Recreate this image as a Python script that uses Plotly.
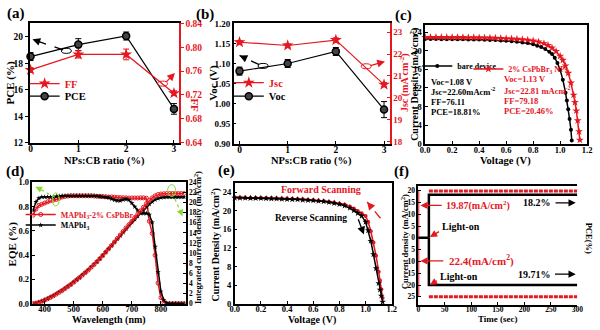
import plotly.graph_objects as go

FONT = "Liberation Serif"
RED = "#e5171f"
BLACK = "#000000"
GREEN = "#86d930"
W, H = 600, 330

# ---------------- data ----------------
# (a)/(b) device statistics vs NPs:CB ratio
ratio = [0, 1, 2, 3]
pce = [18.5, 19.4, 20.05, 14.55]
pce_err = [0.3, 0.45, 0.3, 0.4]
ff = [0.762, 0.788, 0.788, 0.723]
ff_err = [0.004, 0.006, 0.009, 0.004]
voc = [1.081, 1.100, 1.130, 0.985]
voc_err = [0.010, 0.010, 0.010, 0.020]
jsc = [22.54, 22.39, 22.64, 20.60]
jsc_err = [0.08, 0.08, 0.10, 0.10]

# (c) J-V curves
v_bare = [0.00, 0.04, 0.08, 0.12, 0.16, 0.20, 0.24, 0.28, 0.32, 0.36, 0.40, 0.44, 0.48, 0.52,
          0.56, 0.60, 0.64, 0.68, 0.72, 0.76, 0.80, 0.83, 0.86, 0.89, 0.92, 0.94, 0.96, 0.98,
          1.00, 1.02, 1.04, 1.05, 1.06, 1.07, 1.08, 1.086]
j_bare = [22.55, 22.55, 22.54, 22.53, 22.52, 22.51, 22.50, 22.49, 22.47, 22.45, 22.43, 22.40,
          22.36, 22.32, 22.26, 22.18, 22.08, 21.95, 21.82, 21.68, 21.45, 21.10, 20.85, 20.40,
          19.80, 19.30, 18.50, 17.40, 15.90, 13.80, 11.00, 9.30, 7.40, 5.30, 3.00, 0.70]
v_np = [0.00, 0.04, 0.08, 0.12, 0.16, 0.20, 0.24, 0.28, 0.32, 0.36, 0.40, 0.44, 0.48, 0.52,
        0.56, 0.60, 0.64, 0.68, 0.72, 0.76, 0.80, 0.84, 0.88, 0.91, 0.94, 0.97, 1.00, 1.02,
        1.04, 1.06, 1.08, 1.10, 1.11, 1.12, 1.13, 1.14, 1.146]
j_np = [22.95, 22.95, 22.94, 22.94, 22.93, 22.92, 22.91, 22.90, 22.89, 22.87, 22.85, 22.83,
        22.80, 22.77, 22.73, 22.68, 22.62, 22.54, 22.45, 22.33, 22.18, 21.95, 21.60, 21.20,
        20.65, 19.90, 18.90, 18.00, 16.80, 15.20, 13.10, 10.50, 8.90, 7.10, 5.00, 2.60, 0.80]

# (d) EQE and integrated current
wl = [360, 370, 380, 390, 400, 410, 420, 430, 440, 450, 460, 470, 480, 490, 500, 510, 520, 530,
      540, 550, 560, 570, 580, 590, 600, 610, 620, 630, 640, 650, 660, 670, 680, 690, 700, 710,
      720, 730, 740, 750, 760, 770, 780, 790, 800, 810, 820, 830, 840, 850, 860, 870, 880]
eqe_np = [0.73, 0.78, 0.81, 0.82, 0.83, 0.84, 0.85, 0.855, 0.86, 0.87, 0.88, 0.885, 0.888, 0.89,
          0.89, 0.89, 0.89, 0.89, 0.89, 0.89, 0.89, 0.888, 0.886, 0.885, 0.884, 0.882, 0.88,
          0.88, 0.878, 0.876, 0.875, 0.874, 0.873, 0.872, 0.872, 0.872, 0.872, 0.873, 0.873,
          0.87, 0.68, 0.58, 0.40, 0.17, 0.05, 0.01, 0.0, 0.0, 0.0, 0.0, 0.0, 0.0, 0.0]
eqe_ref = [0.77, 0.84, 0.87, 0.88, 0.88, 0.88, 0.88, 0.88, 0.885, 0.888, 0.89, 0.89, 0.89, 0.89,
           0.89, 0.89, 0.89, 0.89, 0.89, 0.89, 0.89, 0.89, 0.888, 0.885, 0.882, 0.878, 0.875,
           0.865, 0.855, 0.85, 0.85, 0.858, 0.862, 0.855, 0.83, 0.80, 0.77, 0.75, 0.745, 0.745,
           0.735, 0.67, 0.47, 0.26, 0.10, 0.03, 0.005, 0.0, 0.0, 0.0, 0.0, 0.0, 0.0]
int_np = [0.0, 0.1, 0.25, 0.45, 0.7, 0.95, 1.25, 1.55, 1.9, 2.25, 2.6, 3.0, 3.4, 3.8, 4.25, 4.7,
          5.15, 5.65, 6.15, 6.65, 7.2, 7.75, 8.3, 8.9, 9.55, 10.2, 10.85, 11.5, 12.2, 12.9, 13.6,
          14.3, 15.0, 15.65, 16.3, 17.0, 17.7, 18.4, 19.1, 19.8, 20.45, 20.95, 21.35, 21.6,
          21.72, 21.76, 21.8, 21.8, 21.8, 21.8, 21.8, 21.8, 21.8]
int_ref = [0.0, 0.12, 0.3, 0.5, 0.75, 1.0, 1.3, 1.6, 1.95, 2.3, 2.65, 3.05, 3.45, 3.85, 4.3,
           4.75, 5.2, 5.7, 6.2, 6.7, 7.25, 7.8, 8.35, 8.95, 9.55, 10.2, 10.85, 11.5, 12.15, 12.8,
           13.45, 14.1, 14.8, 15.45, 16.1, 16.7, 17.3, 17.9, 18.5, 19.1, 19.7, 20.2, 20.6, 20.85,
           21.0, 21.05, 21.1, 21.1, 21.1, 21.1, 21.1, 21.1, 21.1]

# (e) hysteresis
v_scan = [0.00, 0.04, 0.08, 0.12, 0.16, 0.20, 0.24, 0.28, 0.32, 0.36, 0.40, 0.44, 0.48, 0.52,
          0.56, 0.60, 0.64, 0.68, 0.72, 0.76, 0.80, 0.84, 0.88, 0.91, 0.94, 0.97, 1.00, 1.02,
          1.04, 1.06, 1.08, 1.10, 1.11, 1.12, 1.13]
j_rev = [22.80, 22.78, 22.76, 22.74, 22.72, 22.70, 22.67, 22.64, 22.61, 22.57, 22.53, 22.48,
         22.43, 22.37, 22.30, 22.22, 22.12, 22.00, 21.85, 21.66, 21.42, 21.10, 20.60, 20.10,
         19.50, 18.90, 17.60, 15.80, 13.50, 10.60, 7.60, 4.40, 3.00, 1.70, 0.40]
j_fwd = [22.90, 22.88, 22.86, 22.84, 22.82, 22.80, 22.77, 22.74, 22.71, 22.67, 22.63, 22.58,
         22.53, 22.47, 22.40, 22.32, 22.22, 22.10, 21.96, 21.80, 21.60, 21.35, 20.95, 20.50,
         19.95, 19.50, 18.90, 17.60, 15.60, 13.20, 10.30, 6.90, 5.00, 3.10, 1.20]

# (f) steady-state output
t_dark = [0, 20]
y_dark = [0, 0]
t_on = [20, 20, 300]
pce_top = [0, 18.2, 18.2]
pce_bot = [0, -20.0, -20.0]
t_red = [20, 300]
cur_top = [19.87, 19.87]
cur_bot = [-25.0, -25.0]
t_edge = [0, 0]
y_edge = [19.87, -25.0]
f_ticks = [-25, -20, -15, -10, -5, 0, 5, 10, 15, 20]
f_ticktext = ["25", "20", "15", "10", "5", "0", "5", "10", "15", "20"]


def px(x):
    return x / W


def py(y):
    return 1 - y / H


def tf(size=10, color=BLACK):
    return dict(family=FONT, size=size, color=color, weight="bold")


def axis(rng, anchor, domain=None, size=10, color=BLACK, ticks="inside", standoff=0, **kw):
    d = dict(range=rng, anchor=anchor, showline=True, linecolor=color, linewidth=1.5,
             ticks=ticks, ticklen=3, tickwidth=1, tickcolor=color, tickfont=tf(size, color),
             ticklabelstandoff=standoff,
             showgrid=False, zeroline=False, fixedrange=True)
    if domain is not None:
        d["domain"] = domain
    d.update(kw)
    return d


fig = go.Figure()

# ---- (a) ----
fig.add_trace(go.Scatter(x=ratio, y=ff, xaxis="x", yaxis="y2", name="FF", legend="legend",
                         mode="lines+markers", line=dict(color=RED, width=1.2),
                         marker=dict(symbol="star", size=9, color=RED),
                         error_y=dict(type="data", array=ff_err, color=RED, thickness=1, width=3),
                         cliponaxis=False))
fig.add_trace(go.Scatter(x=ratio, y=pce, xaxis="x", yaxis="y", name="PCE", legend="legend2",
                         mode="lines+markers", line=dict(color=BLACK, width=1.2),
                         marker=dict(symbol="circle", size=7, color="#444", line=dict(color=BLACK, width=1.5)),
                         error_y=dict(type="data", array=pce_err, color=BLACK, thickness=1, width=3),
                         cliponaxis=False))
# ---- (b) ----
fig.add_trace(go.Scatter(x=ratio, y=jsc, xaxis="x2", yaxis="y4", name="Jsc", legend="legend3",
                         mode="lines+markers", line=dict(color=RED, width=1.2),
                         marker=dict(symbol="star", size=9, color=RED),
                         error_y=dict(type="data", array=jsc_err, color=RED, thickness=1, width=3),
                         cliponaxis=False))
fig.add_trace(go.Scatter(x=ratio, y=voc, xaxis="x2", yaxis="y3", name="Voc", legend="legend4",
                         mode="lines+markers", line=dict(color=BLACK, width=1.2),
                         marker=dict(symbol="circle", size=7, color="#444", line=dict(color=BLACK, width=1.5)),
                         error_y=dict(type="data", array=voc_err, color=BLACK, thickness=1, width=3),
                         cliponaxis=False))
# ---- (c) ----
fig.add_trace(go.Scatter(x=v_bare, y=j_bare, xaxis="x3", yaxis="y5", name="bare device",
                         legend="legend5", mode="lines+markers", line=dict(color=BLACK, width=1.5),
                         marker=dict(symbol="circle", size=4, color=BLACK), cliponaxis=False))
fig.add_trace(go.Scatter(x=v_np, y=j_np, xaxis="x3", yaxis="y5", name="2% CsPbBr<sub>3</sub> NPs",
                         legend="legend6", mode="lines+markers", line=dict(color=RED, width=1.5),
                         marker=dict(symbol="star", size=6, color=RED), cliponaxis=False))
# ---- (d) ----
fig.add_trace(go.Scatter(x=wl, y=eqe_np, xaxis="x4", yaxis="y6",
                         name="MAPbI<sub>3</sub>-2% CsPbBr<sub>3</sub>", legend="legend7",
                         mode="lines+markers", line=dict(color=RED, width=1.5),
                         marker=dict(symbol="circle-open", size=4, color=RED, line=dict(width=1))))
fig.add_trace(go.Scatter(x=wl, y=eqe_ref, xaxis="x4", yaxis="y6", name="MAPbI<sub>3</sub>",
                         legend="legend8", mode="lines+markers", line=dict(color=BLACK, width=1.5),
                         marker=dict(symbol="star", size=4, color=BLACK)))
fig.add_trace(go.Scatter(x=wl, y=int_ref, xaxis="x4", yaxis="y7", showlegend=False,
                         mode="lines+markers", line=dict(color=BLACK, width=1.5),
                         marker=dict(symbol="star", size=4, color=BLACK)))
fig.add_trace(go.Scatter(x=wl, y=int_np, xaxis="x4", yaxis="y7", showlegend=False,
                         mode="lines+markers", line=dict(color=RED, width=1.5),
                         marker=dict(symbol="circle-open", size=4, color=RED, line=dict(width=1))))
# ---- (e) ----
fig.add_trace(go.Scatter(x=v_scan, y=j_fwd, xaxis="x5", yaxis="y8", showlegend=False,
                         mode="lines+markers", line=dict(color=RED, width=1.5),
                         marker=dict(symbol="circle", size=4, color=RED), cliponaxis=False))
fig.add_trace(go.Scatter(x=v_scan, y=j_rev, xaxis="x5", yaxis="y8", showlegend=False,
                         mode="lines+markers", line=dict(color=BLACK, width=1.5),
                         marker=dict(symbol="star", size=5, color=BLACK), cliponaxis=False))
# ---- (f) ----
for xs, ys, col in [(t_red, cur_top, RED), (t_red, cur_bot, RED)]:
    fig.add_trace(go.Scatter(x=xs, y=ys, xaxis="x6", yaxis="y9", showlegend=False, mode="lines",
                             line=dict(color=col, width=3, dash="4px,1px"), cliponaxis=False))
fig.add_trace(go.Scatter(x=t_edge, y=y_edge, xaxis="x6", yaxis="y9", showlegend=False, mode="lines",
                         line=dict(color=RED, width=2), cliponaxis=False))
fig.add_trace(go.Scatter(x=t_dark, y=y_dark, xaxis="x6", yaxis="y9", showlegend=False, mode="lines",
                         line=dict(color=BLACK, width=2.5), cliponaxis=False))
for ys in (pce_top, pce_bot):
    fig.add_trace(go.Scatter(x=t_on, y=ys, xaxis="x6", yaxis="y9", showlegend=False, mode="lines",
                             line=dict(color=BLACK, width=2.5), cliponaxis=False))

shapes = []
anns = []


def dashed_arrow(xr, yr, x0, y0, x1, y1, color, frac=0.3):
    shapes.append(dict(type="line", xref=xr, yref=yr, x0=x0, y0=y0, x1=x1, y1=y1,
                       line=dict(color=color, width=1.3, dash="dash")))
    anns.append(dict(xref=xr, yref=yr, axref=xr, ayref=yr, x=x1, y=y1,
                     ax=x1 - (x1 - x0) * frac, ay=y1 - (y1 - y0) * frac, text="",
                     showarrow=True, arrowhead=2, arrowsize=1.2, arrowwidth=1.3, arrowcolor=color))


def solid_arrow(xr, yr, x0, y0, x1, y1, color, width=1.2):
    anns.append(dict(xref=xr, yref=yr, axref=xr, ayref=yr, x=x1, y=y1, ax=x0, ay=y0, text="",
                     showarrow=True, arrowhead=2, arrowsize=1.2, arrowwidth=width, arrowcolor=color))


def ellipse(xr, yr, x, y, w, h, color, dash="solid"):
    shapes.append(dict(type="circle", xref=xr, yref=yr, xsizemode="pixel", ysizemode="pixel",
                       xanchor=x, yanchor=y, x0=-w / 2, x1=w / 2, y0=-h / 2, y1=h / 2,
                       line=dict(color=color, width=1, dash=dash)))


def text(x, y, s, size=10, color=BLACK, angle=0, xref="paper", yref="paper", xanchor="center"):
    anns.append(dict(x=x, y=y, xref=xref, yref=yref, text=s, showarrow=False, textangle=angle,
                     font=tf(size, color), xanchor=xanchor, yanchor="middle"))


# arrows & circles (a)
ellipse("x", "y", 0.75, 18.93, 10, 5, BLACK)
dashed_arrow("x", "y", 0.68, 19.0, 0.04, 19.8, BLACK)
ellipse("x", "y2", 2.76, 0.739, 10, 5, RED)
dashed_arrow("x", "y2", 2.84, 0.742, 3.02, 0.757, RED, frac=0.5)
# (b)
ellipse("x2", "y3", 0.49, 1.094, 10, 5, BLACK)
dashed_arrow("x2", "y3", 0.41, 1.097, 0.0, 1.12, BLACK)
ellipse("x2", "y4", 2.63, 21.44, 10, 5, RED)
dashed_arrow("x2", "y4", 2.72, 21.47, 3.02, 21.66, RED, frac=0.5)
# (d) green
ellipse("x4", "y6", 438, 0.86, 7, 13, GREEN)
shapes.append(dict(type="line", xref="x4", yref="y6", x0=434, y0=0.88, x1=372, y1=0.96,
                   line=dict(color=GREEN, width=1.2, dash="dot")))
anns.append(dict(xref="x4", yref="y6", axref="x4", ayref="y6", x=368, y=0.965, ax=385, ay=0.945,
                 text="", showarrow=True, arrowhead=2, arrowsize=1.1, arrowwidth=1.2, arrowcolor=GREEN))
ellipse("x4", "y7", 837, 22.4, 8, 12, GREEN)
shapes.append(dict(type="line", xref="x4", yref="y7", x0=840, y0=21.8, x1=872, y1=17.6,
                   line=dict(color=GREEN, width=1.2, dash="dot")))
anns.append(dict(xref="x4", yref="y7", axref="x4", ayref="y7", x=874, y=17.3, ax=864, ay=18.8,
                 text="", showarrow=True, arrowhead=2, arrowsize=1.1, arrowwidth=1.2, arrowcolor=GREEN))
# (e)
dashed_arrow("x5", "y8", 0.944, 18.2, 0.987, 14.9, BLACK, frac=0.4)
dashed_arrow("x5", "y8", 1.114, 18.4, 1.012, 21.9, RED, frac=0.35)
text(0.66, 24.6, "Forward Scanning", 10, RED, xref="x5", yref="y8")
text(0.58, 18.4, "Reverse Scanning", 9.5, BLACK, xref="x5", yref="y8")
# (f)
text(113, 13.7, "19.87(mA/cm<sup>2</sup>)", 10, RED, xref="x6", yref="y9")
solid_arrow("x6", "y9", 47, 13.7, 4, 13.7, RED)
text(224, 14.8, "18.2%", 10, BLACK, xref="x6", yref="y9")
solid_arrow("x6", "y9", 256, 14.8, 297, 14.8, BLACK)
text(80, 5.0, "Light-on", 10, BLACK, xref="x6", yref="y9")
solid_arrow("x6", "y9", 42, 3.0, 22, 0.3, RED)
text(120, -9.8, "22.4(mA/cm<sup>2</sup>)", 11, RED, xref="x6", yref="y9")
solid_arrow("x6", "y9", 50, -9.8, 4, -9.8, RED)
text(220, -15.4, "19.71%", 10, BLACK, xref="x6", yref="y9")
solid_arrow("x6", "y9", 255, -15.4, 297, -15.4, BLACK)
text(76, -16.4, "Light-on", 10, BLACK, xref="x6", yref="y9")
solid_arrow("x6", "y9", 38, -17.8, 22, -20, RED)
# (c) text blocks
for yv, s in [(13.4, "Voc=1.08 V"), (11.2, "Jsc=22.60mAcm<sup>-2</sup>"), (9.0, "FF=76.11"),
              (6.8, "PCE=18.81%")]:
    text(0.03, yv, s, 8.5, BLACK, xref="x3", yref="y5", xanchor="left")
for yv, s in [(13.9, "Voc=1.13 V"), (11.4, "Jsc=22.81 mAcm<sup>-2</sup>"), (9.2, "FF=79.18"),
              (7.1, "PCE=20.46%")]:
    text(0.57, yv, s, 8.5, RED, xref="x3", yref="y5", xanchor="left")

# panel labels
for (x, y, s) in [(11, 9, "(a)"), (204, 10, "(b)"), (406, 11, "(c)"), (10, 172, "(d)"),
                  (226, 171, "(e)"), (404, 172, "(f)")]:
    text(px(x), py(y), s, 15)
# axis titles
text(px(101), py(161), "NPs:CB ratio (%)", 10.5)
text(px(312), py(161), "NPs:CB ratio (%)", 10.5)
text(px(510), py(161), "Voltage (V)", 10.5)
text(px(106), py(325), "Wavelength (nm)", 10)
text(px(313), py(325), "Voltage (V)", 10)
text(px(502), py(324), "Time (sec)", 9)
text(px(6), py(80), "PCE (%)", 11, angle=-90)
text(px(194), py(104), "FF", 11, RED, angle=90)
text(px(212), py(80), "Voc (V)", 11, angle=-90)
text(px(407), py(80), "Jsc (mA cm<sup>-2</sup>)", 10, RED, angle=-90)
text(px(417), py(82), "Current Density (mA/cm<sup>2</sup>)", 10, angle=-90)
text(px(8), py(246), "EQE (%)", 11, angle=-90)
text(px(197), py(240), "Integrated current density (mA/cm<sup>2</sup>)", 8.5, angle=-90)
text(px(214), py(248), "Current Density (mA/cm<sup>2</sup>)", 10, angle=-90)
text(px(408), py(244), "Current density (mA/cm<sup>2</sup>)", 8.5, angle=-90)
text(px(595), py(240), "PCE(%)", 8.5, angle=90)


def leg(x, y, color, size=10):
    return dict(x=px(x), y=py(y), xanchor="left", yanchor="middle", bgcolor="rgba(0,0,0,0)",
                borderwidth=0, font=tf(size, color), itemwidth=30, tracegroupgap=0)


fig.update_layout(
    width=W, height=H, margin=dict(l=0, r=0, t=0, b=0),
    paper_bgcolor="white", plot_bgcolor="white",
    font=dict(family=FONT, color=BLACK),
    showlegend=True,
    legend=leg(20, 81, RED, 10.5), legend2=leg(20, 94, BLACK, 10.5),
    legend3=leg(228, 80, RED, 10.5), legend4=leg(228, 94, BLACK, 10.5),
    legend5=leg(420, 63, BLACK, 8), legend6=leg(472, 66, RED, 8),
    legend7=leg(16, 216, RED, 8), legend8=leg(16, 227, BLACK, 8),
    xaxis=axis([-0.02, 3.1], "y", [px(25), px(177)], size=9.5, dtick=1, mirror=True, standoff=-4),
    yaxis=axis([12, 21], "x", [py(142), py(19)], size=9.5, dtick=2, ticks="outside"),
    yaxis2=axis([0.64, 0.84], "x", None, size=9.5, color=RED, overlaying="y", side="right",
                dtick=0.04, tickformat=".2f", ticks="outside"),
    xaxis2=axis([-0.12, 3.12], "y3", [px(233), px(392)], size=9.5, dtick=1, mirror=True,
                standoff=-4),
    yaxis3=axis([0.9, 1.2], "x2", [py(143), py(19)], size=9, dtick=0.05, tickformat=".2f"),
    yaxis4=axis([17.9, 23.4], "x2", None, size=9, color=RED, overlaying="y3", side="right",
                dtick=1),
    xaxis3=axis([0, 1.2], "y5", [px(428), px(593)], size=8.5, dtick=0.2, tickformat=".1f",
                mirror=True, standoff=-3),
    yaxis5=axis([0, 25.5], "x3", [py(143), py(21)], size=8.5, dtick=4, mirror=True),
    xaxis4=axis([358, 885], "y6", [px(28), px(184)], size=8.5, tickvals=[400, 500, 600, 700, 800],
                mirror=True, standoff=-4),
    yaxis6=axis([0, 1.0], "x4", [py(308), py(183)], size=8.5, dtick=0.2, tickformat=".1f"),
    yaxis7=axis([0, 24], "x4", None, size=7.5, overlaying="y6", side="right", dtick=2),
    xaxis5=axis([0, 1.2], "y8", [px(234), px(394)], size=8.5, dtick=0.2, tickformat=".1f",
                mirror=True, standoff=-4),
    yaxis8=axis([0, 25.9], "x5", [py(308), py(184)], size=8.5, dtick=4, mirror=True),
    xaxis6=axis([0, 300], "y9", [px(421), px(583)], size=7.5, dtick=50, mirror=True, standoff=-3),
    yaxis9=axis([-28.3, 21.8], "x6", [py(309), py(187)], size=7.5, tickvals=f_ticks,
                ticktext=f_ticktext),
    yaxis10=axis([-28.3, 21.8], "x6", None, size=7.5, overlaying="y9", side="right",
                 tickvals=f_ticks, ticktext=f_ticktext),
    shapes=shapes, annotations=anns,
)

fig.write_html("out.html")
